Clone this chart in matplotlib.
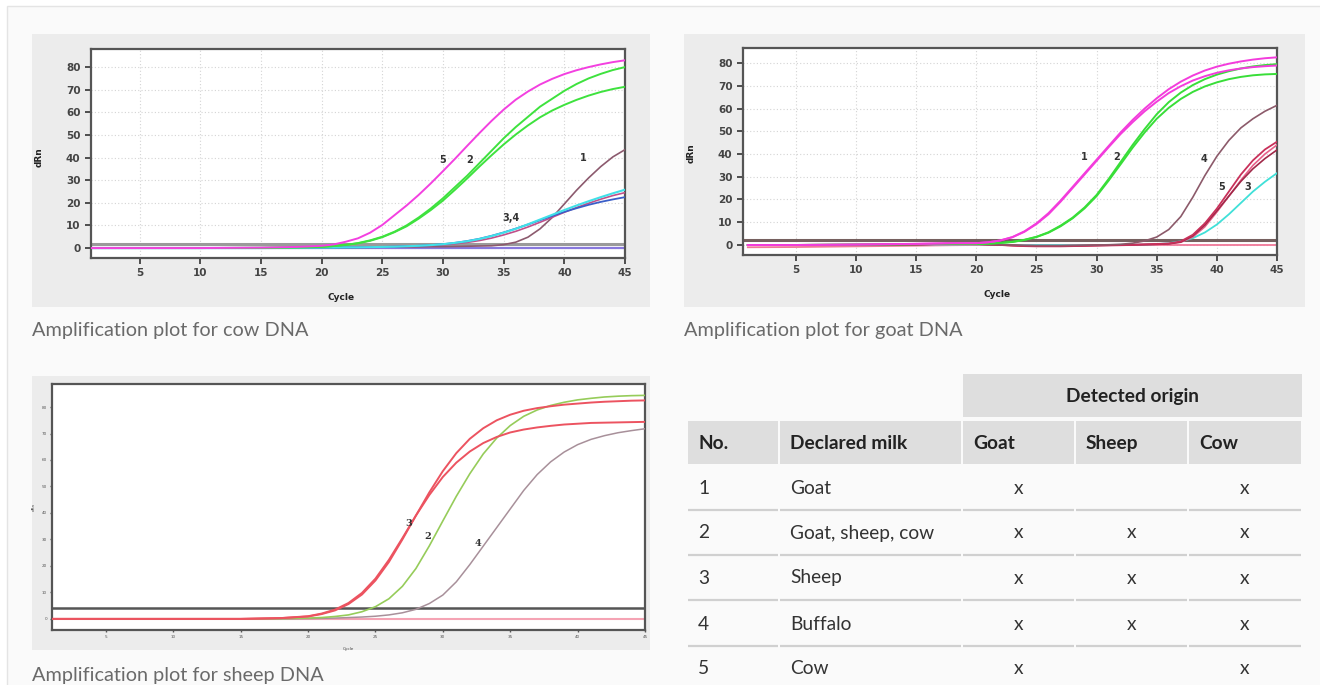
import matplotlib.pyplot as plt
from matplotlib.patches import Rectangle

# ----------------------------------------------------------------------
# Data
# ----------------------------------------------------------------------
cycles = [1, 5, 10, 15, 18, 20, 21, 22, 23, 24, 25, 26, 27, 28, 29, 30,
          31, 32, 33, 34, 35, 36, 37, 38, 39, 40, 41, 42, 43, 44, 45]

# cow DNA plot
cow_5 = [0, 0, 0, 0.2, 0.5, 1.0, 1.6, 2.8, 4.3, 6.8, 10.2, 14.5, 18.8, 23.5, 28.6, 34.0,
         39.5, 45.2, 50.8, 56.2, 61.2, 65.6, 69.2, 72.3, 74.8, 76.9, 78.6, 80.0, 81.2, 82.2, 83.0]
cow_2a = [0, 0, 0, 0.1, 0.3, 0.5, 0.9, 1.4, 2.2, 3.4, 5.0, 7.2, 10.0, 13.5, 17.5, 22.0,
          27.0, 32.0, 37.5, 43.0, 48.5, 53.5, 58.0, 62.5, 66.0, 69.5, 72.5, 75.0, 77.0, 78.7, 80.0]
cow_2b = [0, 0, 0, 0.1, 0.3, 0.5, 0.9, 1.4, 2.1, 3.2, 4.8, 7.0, 9.6, 13.0, 16.8, 21.0,
          25.8, 30.8, 36.0, 41.0, 45.8, 50.2, 54.2, 57.8, 60.8, 63.3, 65.5, 67.4, 69.0, 70.3, 71.3]
cow_3 = [0, 0, 0, 0, 0.1, 0.2, 0.2, 0.3, 0.3, 0.4, 0.5, 0.6, 0.8, 1.0, 1.3, 1.7,
         2.3, 3.0, 4.0, 5.3, 6.8, 8.5, 10.5, 12.6, 14.7, 16.8, 18.8, 20.7, 22.5, 24.2, 25.8]
cow_4 = [0, 0, 0, 0, 0.1, 0.2, 0.2, 0.3, 0.3, 0.4, 0.5, 0.6, 0.8, 1.0, 1.3, 1.7,
         2.3, 3.1, 4.1, 5.4, 6.9, 8.6, 10.4, 12.3, 14.2, 16.0, 17.6, 19.1, 20.4, 21.5, 22.5]
cow_4b = [0, 0, 0, 0, 0.1, 0.2, 0.2, 0.3, 0.3, 0.4, 0.5, 0.6, 0.7, 0.9, 1.1, 1.4,
          1.9, 2.5, 3.3, 4.4, 5.8, 7.4, 9.3, 11.4, 13.6, 15.8, 17.9, 19.8, 21.6, 23.2, 24.5]
cow_1 = [0, 0, 0, 0, 0.1, 0.2, 0.2, 0.3, 0.3, 0.3, 0.4, 0.4, 0.5, 0.5, 0.6, 0.6,
         0.7, 0.8, 0.9, 1.0, 1.5, 2.6, 4.8, 8.5, 13.5, 19.5, 25.5, 31.0, 36.0, 40.3, 43.5]
cow_threshold = 1.8
cow_baseline = 0.0

# goat DNA plot
goat_1a = [0, 0, 0.2, 0.5, 0.8, 0.8, 1.2, 2.0, 3.5, 6.0, 9.5, 14.0, 19.5, 25.5, 31.5, 37.5,
           43.5, 49.5, 55.0, 60.0, 64.5, 68.5, 71.8, 74.5, 76.7, 78.4, 79.7, 80.7, 81.5, 82.1, 82.5]
goat_1b = [0, 0, 0.2, 0.5, 0.8, 0.8, 1.2, 2.0, 3.4, 5.8, 9.2, 13.5, 19.0, 25.0, 31.0, 37.0,
           43.0, 48.8, 54.0, 58.8, 63.0, 66.8, 69.8, 72.3, 74.2, 75.7, 76.8, 77.6, 78.2, 78.6, 78.9]
goat_2a = [0, 0, 0.2, 0.4, 0.5, 0.4, 0.6, 0.9, 1.4, 2.3, 3.6, 5.6, 8.5, 12.0, 16.5, 22.0,
           29.0, 36.5, 44.0, 51.0, 57.5, 62.8, 67.0, 70.3, 72.9, 74.9, 76.4, 77.6, 78.5, 79.1, 79.5]
goat_2b = [0, 0, 0.2, 0.4, 0.5, 0.4, 0.6, 0.9, 1.3, 2.2, 3.5, 5.4, 8.2, 11.7, 16.1, 21.5,
           28.3, 35.5, 42.8, 49.5, 55.5, 60.3, 64.2, 67.3, 69.7, 71.5, 72.9, 73.9, 74.6, 75.0, 75.2]
goat_4 = [0, 0, 0, 0.2, 0.6, 0.4, 0.2, 0.1, 0, -0.2, -0.3, -0.3, -0.3, -0.2, -0.1, 0,
          0.1, 0.3, 0.8, 1.8, 3.5, 6.8, 12.5, 21.0, 30.5, 39.0, 46.0, 51.5, 55.5, 58.8, 61.4]
goat_5 = [0, 0, 0, 0.2, 0.6, 0.5, 0.3, 0, -0.3, -0.5, -0.6, -0.6, -0.6, -0.5, -0.4, -0.3,
          -0.2, -0.1, 0, 0.2, 0.4, 0.6, 1.6, 4.5, 9.5, 16.0, 23.5, 31.0, 37.2, 42.0, 45.4]
goat_3 = [0, 0, 0, 0.2, 0.5, 0.4, 0.2, 0, -0.2, -0.4, -0.5, -0.5, -0.5, -0.4, -0.3, -0.2,
          -0.1, 0, 0.1, 0.2, 0.3, 0.5, 1.3, 4.0, 8.8, 15.0, 21.5, 28.0, 33.5, 38.0, 41.8]
goat_3b = [0, 0, 0, 0.1, 0.3, 0.2, 0.1, 0, -0.1, -0.2, -0.3, -0.3, -0.3, -0.2, -0.2, -0.1,
           0, 0.1, 0.2, 0.3, 0.5, 0.7, 1.2, 3.5, 8.0, 14.5, 21.5, 28.5, 35.0, 40.0, 44.0]
goat_cyan = [0, 0, 0, 0.1, 0.2, 0.2, 0.1, 0, 0, 0, 0, 0, 0, 0, 0, 0,
             0, 0.1, 0.1, 0.2, 0.4, 0.8, 1.6, 3.0, 5.5, 9.0, 13.5, 18.5, 23.5, 27.8, 31.6]
goat_base = [-1.0, -0.9, -0.6, -0.3, -0.1, 0, 0, 0, 0, 0, 0, 0, 0, 0, 0, 0,
             0, 0, 0, 0, 0, 0, 0, 0, 0, 0, 0, 0, 0, 0, 0]
goat_threshold = 2.3

# sheep DNA plot
sheep_3a = [0, 0, 0, 0, 0.3, 0.9, 1.8, 3.2, 5.6, 9.2, 14.5, 21.5, 30.0, 39.0, 47.8, 55.8,
            62.6, 68.0, 72.0, 75.0, 77.1, 78.6, 79.6, 80.3, 80.9, 81.3, 81.7, 82.0, 82.2, 82.4, 82.5]
sheep_3b = [0, 0, 0, 0, 0.3, 1.0, 2.0, 3.5, 6.0, 9.8, 15.2, 22.3, 30.5, 39.0, 46.8, 53.6,
            59.0, 63.2, 66.4, 68.7, 70.4, 71.5, 72.3, 72.9, 73.4, 73.7, 74.0, 74.1, 74.2, 74.3, 74.4]
sheep_2 = [0, 0, 0, 0, 0.1, 0.3, 0.5, 0.9, 1.5, 2.7, 4.6, 7.6, 12.3, 19.0, 27.6, 37.0,
           46.3, 54.8, 62.3, 68.3, 73.0, 76.5, 78.9, 80.6, 81.8, 82.7, 83.3, 83.8, 84.1, 84.3, 84.4]
sheep_4 = [0, 0, 0, 0, 0, 0.1, 0.2, 0.3, 0.5, 0.7, 1.0, 1.5, 2.3, 3.6, 5.8, 9.0,
           14.0, 20.5, 27.5, 34.5, 41.5, 48.5, 54.5, 59.3, 63.0, 65.8, 67.8, 69.2, 70.3, 71.1, 71.8]
sheep_threshold = 4.2
sheep_baseline = 0.0

# curve annotations (text, cycle, dRn)
cow_notes = [("5", 30.0, 39), ("2", 32.2, 39), ("1", 41.6, 40), ("3,4", 35.6, 13.5)]
goat_notes = [("1", 29.0, 38.5), ("2", 31.7, 38.5), ("4", 38.9, 38),
              ("5", 40.4, 25.5), ("3", 42.6, 25.5)]
sheep_notes = [("3", 27.5, 36), ("2", 28.9, 31), ("4", 32.6, 28.5)]

x_ticks = [5, 10, 15, 20, 25, 30, 35, 40, 45]
y_ticks = [0, 10, 20, 30, 40, 50, 60, 70, 80]

captions = ["Amplification plot for cow DNA",
            "Amplification plot for goat DNA",
            "Amplification plot for sheep DNA"]

# table
table_head = ["No.", "Declared milk", "Goat", "Sheep", "Cow"]
table_group = "Detected origin"
sample_no = ["1", "2", "3", "4", "5"]
declared_milk = ["Goat", "Goat, sheep, cow", "Sheep", "Buffalo", "Cow"]
found_goat = ["x", "x", "x", "x", "x"]
found_sheep = ["", "x", "x", "x", ""]
found_cow = ["x", "x", "x", "x", "x"]

# ----------------------------------------------------------------------
# Figure
# ----------------------------------------------------------------------
W, H = 1320, 685
fig = plt.figure(figsize=(W / 100, H / 100), dpi=100, facecolor="white")

TXT_FONT = ["Lato", "DejaVu Sans"]

bg = fig.add_axes([0, 0, 1, 1])
bg.set_xlim(0, W)
bg.set_ylim(H, 0)
bg.axis("off")

bg.add_patch(Rectangle((7, 6), 1330, 700, facecolor="#fafafa", edgecolor="#e4e4e4", lw=1))
for (px, py, pw, ph) in [(32, 34, 618, 273), (684, 34, 621, 273), (32, 376, 618, 274)]:
    bg.add_patch(Rectangle((px, py), pw, ph, facecolor="#ececec", edgecolor="none"))

for txt, (cx, cy) in zip(captions, [(32, 330), (684, 330), (32, 675)]):
    bg.text(cx, cy, txt, fontsize=14.3, color="#6a6a6a", family=TXT_FONT,
            ha="left", va="center")


def px_axes(x0, y0, x1, y1):
    return fig.add_axes([x0 / W, 1 - y1 / H, (x1 - x0) / W, (y1 - y0) / H])


def style_axes(ax, ylim, xlim, small=False):
    ax.set_xlim(*xlim)
    ax.set_ylim(*ylim)
    ax.set_facecolor("white")
    for sp in ax.spines.values():
        sp.set_color("#555555")
        sp.set_linewidth(1.6)
    ax.set_xticks(x_ticks)
    ax.set_yticks(y_ticks)
    if small:
        ax.tick_params(direction="out", length=1.5, width=1.0, colors="#555555",
                       labelsize=3, pad=2)
    else:
        ax.tick_params(direction="out", length=4, width=1.2, colors="#333333",
                       labelsize=7.5, pad=3.5)
        for lab in ax.get_xticklabels() + ax.get_yticklabels():
            lab.set_fontweight("bold")
            lab.set_color("#444444")
        ax.grid(True, color="#d4d4d4", linestyle=(0, (1, 2)), linewidth=0.8)
        ax.set_axisbelow(True)


# ---------------- cow ----------------
ax1 = px_axes(91, 49, 625, 258)
style_axes(ax1, (-4.4, 88), (1, 45))
ax1.axhline(cow_threshold, color="#9a9a9a", lw=2.2, zorder=2)
ax1.axhline(cow_baseline, color="#8878dd", lw=1.6, zorder=2)
ax1.plot(cycles, cow_1, color="#8c5a6e", lw=1.2, zorder=3)
ax1.plot(cycles, cow_4b, color="#c0508a", lw=1.2, zorder=3)
ax1.plot(cycles, cow_4, color="#3a5ec8", lw=1.3, zorder=3)
ax1.plot(cycles, cow_3, color="#40e0e8", lw=1.5, zorder=3)
ax1.plot(cycles, cow_2b, color="#3ee23e", lw=1.4, zorder=4)
ax1.plot(cycles, cow_2a, color="#3ee23e", lw=1.4, zorder=4)
ax1.plot(cycles, cow_5, color="#f340e0", lw=1.4, zorder=4)
for t, cx, cy in cow_notes:
    ax1.text(cx, cy, t, fontsize=7, fontweight="bold", color="#333333",
             ha="center", va="center", zorder=5)
ax1.set_xlabel("Cycle", fontsize=6.5, fontweight="bold", color="#222222")
ax1.set_ylabel("dRn", fontsize=6.5, fontweight="bold", color="#222222")
ax1.xaxis.set_label_coords(0.468, -0.167)
ax1.yaxis.set_label_coords(-0.088, 0.483)

# ---------------- goat ----------------
ax2 = px_axes(743, 48, 1277, 255)
style_axes(ax2, (-4.4, 86.6), (0.6, 45))
ax2.plot(cycles, goat_base, color="#f07898", lw=1.3, zorder=2)
ax2.axhline(goat_threshold, color="#76605f", lw=2.2, zorder=2)
ax2.plot(cycles, goat_cyan, color="#40e0d8", lw=1.3, zorder=3)
ax2.plot(cycles, goat_3b, color="#e8608a", lw=1.2, zorder=3)
ax2.plot(cycles, goat_3, color="#a02848", lw=1.2, zorder=3)
ax2.plot(cycles, goat_5, color="#c8305a", lw=1.3, zorder=3)
ax2.plot(cycles, goat_4, color="#8c5a6a", lw=1.2, zorder=3)
ax2.plot(cycles, goat_2b, color="#38de38", lw=1.4, zorder=4)
ax2.plot(cycles, goat_2a, color="#38de38", lw=1.4, zorder=4)
ax2.plot(cycles, goat_1b, color="#f33cdc", lw=1.4, zorder=4)
ax2.plot(cycles, goat_1a, color="#f33cdc", lw=1.4, zorder=4)
for t, cx, cy in goat_notes:
    ax2.text(cx, cy, t, fontsize=7, fontweight="bold", color="#333333",
             ha="center", va="center", zorder=5)
ax2.set_xlabel("Cycle", fontsize=6.5, fontweight="bold", color="#222222")
ax2.set_ylabel("dRn", fontsize=6.5, fontweight="bold", color="#222222")
ax2.xaxis.set_label_coords(0.476, -0.169)
ax2.yaxis.set_label_coords(-0.088, 0.493)

# ---------------- sheep ----------------
ax3 = px_axes(52, 384, 645, 630)
style_axes(ax3, (-4.2, 88.7), (1, 45), small=True)
ax3.axhline(sheep_baseline, color="#f5a3b4", lw=1.5, zorder=2)
ax3.axhline(sheep_threshold, color="#555555", lw=1.8, zorder=2)
ax3.plot(cycles, sheep_4, color="#a8909a", lw=1.1, zorder=3)
ax3.plot(cycles, sheep_2, color="#96cc5a", lw=1.2, zorder=3)
ax3.plot(cycles, sheep_3b, color="#ec5360", lw=1.4, zorder=4)
ax3.plot(cycles, sheep_3a, color="#ec5360", lw=1.4, zorder=4)
for t, cx, cy in sheep_notes:
    ax3.text(cx, cy, t, fontsize=7, fontweight="bold", color="#333333",
             family="DejaVu Serif", ha="center", va="center", zorder=5)
ax3.set_xlabel("Cycle", fontsize=3, color="#444444")
ax3.set_ylabel("dRn", fontsize=3, color="#444444")
ax3.xaxis.set_label_coords(0.5, -0.069)
ax3.yaxis.set_label_coords(-0.027, 0.5)

# ----------------------------------------------------------------------
# Table
# ----------------------------------------------------------------------
col_edges = [687, 779, 962, 1075, 1188, 1302]
row_centers = [488, 533, 578, 624, 669]
row_lines = [510, 555, 600, 646]
HEAD_BG = "#dedede"
TABLE_FS = 13.8

bg.add_patch(Rectangle((col_edges[2] + 1, 374), col_edges[-1] - col_edges[2] - 1, 43,
                       facecolor=HEAD_BG, edgecolor="none"))
bg.text((col_edges[2] + col_edges[-1]) / 2, 396, table_group, fontsize=TABLE_FS,
        fontweight="bold", color="#222222", family=TXT_FONT, ha="center", va="center")

for i, name in enumerate(table_head):
    x0, x1 = col_edges[i], col_edges[i + 1]
    bg.add_patch(Rectangle((x0 + 1, 421), x1 - x0 - 2, 43, facecolor=HEAD_BG, edgecolor="none"))
    bg.text(x0 + 11, 443, name, fontsize=TABLE_FS, fontweight="bold", color="#222222",
            family=TXT_FONT, ha="left", va="center")
    for ly in row_lines:
        bg.plot([x0 + 1, x1 - 1], [ly, ly], color="#d0d0d0", lw=1.6, solid_capstyle="butt")

columns = [sample_no, declared_milk, found_goat, found_sheep, found_cow]
for i, col in enumerate(columns):
    x0, x1 = col_edges[i], col_edges[i + 1]
    for r, val in enumerate(col):
        if i < 2:
            bg.text(x0 + 11, row_centers[r], val, fontsize=TABLE_FS, color="#333333",
                    family=TXT_FONT, ha="left", va="center")
        else:
            bg.text((x0 + x1) / 2, row_centers[r], val, fontsize=TABLE_FS, color="#333333",
                    family=TXT_FONT, ha="center", va="center")

fig.savefig("out.png", dpi=100, facecolor=fig.get_facecolor())
plt.close(fig)
